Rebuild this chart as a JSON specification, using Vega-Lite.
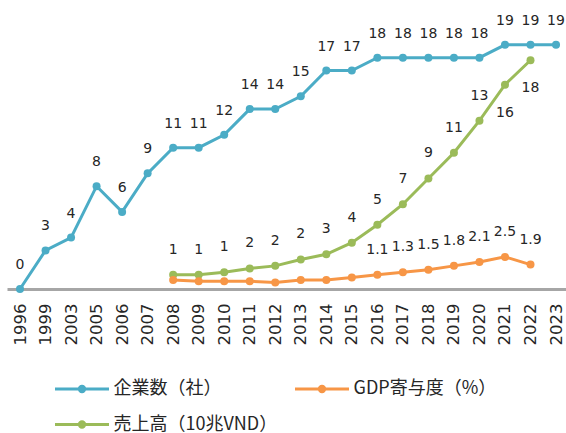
{
  "$schema": "https://vega.github.io/schema/vega-lite/v6.json",
  "width": 559,
  "height": 257,
  "autosize": {"type": "none"},
  "padding": {"left": 7, "top": 32, "right": 0, "bottom": 144},
  "background": "white",
  "config": {
    "view": {"stroke": null}
  },
  "data": {
    "values": [
      {"year": "1996", "series": "企業数（社）", "value": 0},
      {"year": "1999", "series": "企業数（社）", "value": 3},
      {"year": "2003", "series": "企業数（社）", "value": 4},
      {"year": "2005", "series": "企業数（社）", "value": 8},
      {"year": "2006", "series": "企業数（社）", "value": 6},
      {"year": "2007", "series": "企業数（社）", "value": 9},
      {"year": "2008", "series": "企業数（社）", "value": 11},
      {"year": "2009", "series": "企業数（社）", "value": 11},
      {"year": "2010", "series": "企業数（社）", "value": 12},
      {"year": "2011", "series": "企業数（社）", "value": 14},
      {"year": "2012", "series": "企業数（社）", "value": 14},
      {"year": "2013", "series": "企業数（社）", "value": 15},
      {"year": "2014", "series": "企業数（社）", "value": 17},
      {"year": "2015", "series": "企業数（社）", "value": 17},
      {"year": "2016", "series": "企業数（社）", "value": 18},
      {"year": "2017", "series": "企業数（社）", "value": 18},
      {"year": "2018", "series": "企業数（社）", "value": 18},
      {"year": "2019", "series": "企業数（社）", "value": 18},
      {"year": "2020", "series": "企業数（社）", "value": 18},
      {"year": "2021", "series": "企業数（社）", "value": 19},
      {"year": "2022", "series": "企業数（社）", "value": 19},
      {"year": "2023", "series": "企業数（社）", "value": 19},
      {"year": "2008", "series": "売上高（10兆VND）", "value": 1.1},
      {"year": "2009", "series": "売上高（10兆VND）", "value": 1.1},
      {"year": "2010", "series": "売上高（10兆VND）", "value": 1.3},
      {"year": "2011", "series": "売上高（10兆VND）", "value": 1.6},
      {"year": "2012", "series": "売上高（10兆VND）", "value": 1.8},
      {"year": "2013", "series": "売上高（10兆VND）", "value": 2.3},
      {"year": "2014", "series": "売上高（10兆VND）", "value": 2.7},
      {"year": "2015", "series": "売上高（10兆VND）", "value": 3.6},
      {"year": "2016", "series": "売上高（10兆VND）", "value": 5.0},
      {"year": "2017", "series": "売上高（10兆VND）", "value": 6.6},
      {"year": "2018", "series": "売上高（10兆VND）", "value": 8.6},
      {"year": "2019", "series": "売上高（10兆VND）", "value": 10.6},
      {"year": "2020", "series": "売上高（10兆VND）", "value": 13.1},
      {"year": "2021", "series": "売上高（10兆VND）", "value": 15.9},
      {"year": "2022", "series": "売上高（10兆VND）", "value": 17.8},
      {"year": "2008", "series": "GDP寄与度（%）", "value": 0.7},
      {"year": "2009", "series": "GDP寄与度（%）", "value": 0.6},
      {"year": "2010", "series": "GDP寄与度（%）", "value": 0.6},
      {"year": "2011", "series": "GDP寄与度（%）", "value": 0.6},
      {"year": "2012", "series": "GDP寄与度（%）", "value": 0.5},
      {"year": "2013", "series": "GDP寄与度（%）", "value": 0.7},
      {"year": "2014", "series": "GDP寄与度（%）", "value": 0.7},
      {"year": "2015", "series": "GDP寄与度（%）", "value": 0.9},
      {"year": "2016", "series": "GDP寄与度（%）", "value": 1.1},
      {"year": "2017", "series": "GDP寄与度（%）", "value": 1.3},
      {"year": "2018", "series": "GDP寄与度（%）", "value": 1.5},
      {"year": "2019", "series": "GDP寄与度（%）", "value": 1.8},
      {"year": "2020", "series": "GDP寄与度（%）", "value": 2.1},
      {"year": "2021", "series": "GDP寄与度（%）", "value": 2.5},
      {"year": "2022", "series": "GDP寄与度（%）", "value": 1.9}
    ]
  },
  "encoding": {
    "x": {
      "field": "year",
      "type": "ordinal",
      "scale": {"type": "point", "padding": 0.45, "align": 0.566},
      "axis": {
        "title": null,
        "labelAngle": -90,
        "labelFont": "DejaVu Sans",
        "labelFontSize": 16.5,
        "labelColor": "#262626",
        "labelPadding": 14,
        "ticks": false,
        "grid": false,
        "domainColor": "#A6A6A6",
        "domainWidth": 3
      }
    },
    "y": {
      "field": "value",
      "type": "quantitative",
      "scale": {"domain": [0, 20], "nice": false},
      "axis": null
    }
  },
  "layer": [
    {
      "mark": {"type": "line", "strokeWidth": 3, "point": {"filled": true, "size": 64, "opacity": 1}},
      "encoding": {
        "color": {
          "field": "series",
          "type": "nominal",
          "scale": {
            "domain": ["企業数（社）", "GDP寄与度（%）", "売上高（10兆VND）"],
            "range": ["#4BACC6", "#F79646", "#9BBB59"]
          },
          "legend": {
            "title": null,
            "orient": "none",
            "direction": "horizontal",
            "legendX": 60,
            "legendY": 342,
            "columns": 2,
            "symbolType": "M-2,0H2M0.2,0A0.2,0.2,0,1,1,-0.2,0A0.2,0.2,0,1,1,0.2,0",
            "symbolSize": 729,
            "symbolStrokeWidth": 3,
            "labelFont": "Noto Sans CJK JP",
            "labelFontSize": 18,
            "labelColor": "#262626",
            "labelLimit": 300,
            "labelOffset": 16.5,
            "rowPadding": 11.5,
            "columnPadding": 11,
            "encode": {
              "symbols": {
                "update": {
                  "fill": {"scale": "color", "field": "value"},
                  "stroke": {"scale": "color", "field": "value"},
                  "opacity": {"value": 1}
                }
              }
            }
          }
        },
        "detail": {"field": "series"}
      }
    },
    {
      "transform": [{"filter": "datum.series === '企業数（社）'"}],
      "mark": {"type": "text", "dy": -24, "font": "DejaVu Sans", "fontSize": 14, "color": "#262626"},
      "encoding": {"text": {"field": "value", "type": "quantitative", "format": ".0f"}}
    },
    {
      "transform": [{"filter": "datum.series === '売上高（10兆VND）' && toNumber(datum.year) <= 2020"}],
      "mark": {"type": "text", "dy": -25, "font": "DejaVu Sans", "fontSize": 14, "color": "#262626"},
      "encoding": {"text": {"field": "value", "type": "quantitative", "format": ".0f"}}
    },
    {
      "transform": [{"filter": "datum.series === '売上高（10兆VND）' && toNumber(datum.year) > 2020"}],
      "mark": {"type": "text", "dy": 28, "font": "DejaVu Sans", "fontSize": 14, "color": "#262626"},
      "encoding": {"text": {"field": "value", "type": "quantitative", "format": ".0f"}}
    },
    {
      "transform": [{"filter": "datum.series === 'GDP寄与度（%）' && toNumber(datum.year) >= 2016"}],
      "mark": {"type": "text", "dy": -25, "font": "DejaVu Sans", "fontSize": 14, "color": "#262626"},
      "encoding": {"text": {"field": "value", "type": "quantitative", "format": ".1f"}}
    }
  ]
}
